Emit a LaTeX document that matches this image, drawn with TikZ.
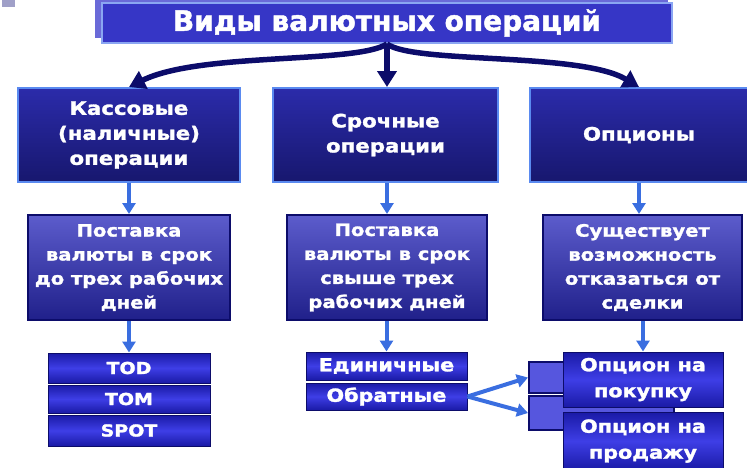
\documentclass[tikz,border=0pt]{standalone}
\usepackage{fontspec}
\setmainfont{DejaVu Sans}[FakeStretch=1.15,BoldFeatures={FakeBold=1.6}]
\newfontfamily\titlefont{DejaVu Sans}[BoldFeatures={FakeBold=1.6}]
\usetikzlibrary{arrows.meta,shadings}
\definecolor{navy}{HTML}{0C0C6A}
\definecolor{ltblue}{HTML}{3A6EE0}
\definecolor{rimblue}{HTML}{5A8AF0}
\definecolor{titlefill}{HTML}{3636C6}
\definecolor{titlerim}{HTML}{8AA6F2}
\definecolor{titleshadow}{HTML}{6A6AD8}
\definecolor{greysq}{HTML}{A0A0C8}
\definecolor{onetop}{HTML}{2B2BAA}
\definecolor{onebot}{HTML}{17176E}
\definecolor{twotop}{HTML}{5C5CCC}
\definecolor{twobot}{HTML}{20208A}
\definecolor{threeedge}{HTML}{1A1AA6}
\definecolor{threemid}{HTML}{3E3EE6}
\definecolor{smallfill}{HTML}{5656DE}
\begin{document}
\begin{tikzpicture}[x=1pt,y=-1pt,
  txt/.style={text=white,align=center,inner sep=0pt},
  topbox/.style={txt,draw=titlerim,line width=2pt,fill=titlefill,font=\titlefont\fontsize{28}{30}\selectfont\bfseries},
  onebox/.style={txt,draw=rimblue,line width=2pt,top color=onetop,bottom color=onebot,font=\fontsize{18.5}{25}\selectfont\bfseries},
  twobox/.style={txt,draw=navy,line width=2pt,top color=twotop,bottom color=twobot,font=\fontsize{17}{24}\selectfont\bfseries},
  threebox/.style={txt,draw=navy,line width=1pt,top color=threeedge,bottom color=threeedge,middle color=threemid,font=\fontsize{16.5}{19}\selectfont\bfseries},
  midbox/.style={threebox,font=\fontsize{18}{19}\selectfont\bfseries},
  optbox/.style={txt,draw=navy,line width=1pt,top color=threeedge,bottom color=threeedge,middle color=threemid,font=\fontsize{18}{26}\selectfont\bfseries},
  smallbox/.style={draw=navy,line width=2pt,fill=smallfill,anchor=west},
  bigarrow/.style={navy,line width=5.5pt,-{Triangle[width=19pt,length=16pt]}},
  smallarrow/.style={ltblue,line width=4pt,-{Triangle[width=13pt,length=11pt]}}
]
\useasboundingbox (0,0) rectangle (747,467);
% small grey square
\fill[greysq] (2,0) rectangle (15,7);
% title shadow and box
\fill[titleshadow] (95,0) rectangle (668,38);
\node[topbox,minimum width=570pt,minimum height=40pt] (title) at (387,23) {Виды валютных операций};
% row 1
\node[onebox,minimum width=222pt,minimum height=94pt] (kas) at (129,135) {Кассовые\\(наличные)\\операции};
\node[onebox,minimum width=225pt,minimum height=94pt] (sro) at (385.5,135) {Срочные\\операции};
\node[onebox,minimum width=218pt,minimum height=94pt] (opc) at (639,135) {Опционы};
% row 2
\node[twobox,minimum width=202pt,minimum height=105pt] (kas2) at (129,267.5) {Поставка\\валюты в срок\\до трех рабочих\\дней};
\node[twobox,minimum width=200pt,minimum height=105pt] (sro2) at (387,267.5) {Поставка\\валюты в срок\\свыше трех\\рабочих дней};
\node[twobox,minimum width=199pt,minimum height=105pt] (opc2) at (642.5,267.5) {Существует\\возможность\\отказаться от\\сделки};
% row 3 left
\node[threebox,minimum width=162pt,minimum height=30pt] (tod) at (129,368) {TOD};
\node[threebox,minimum width=162pt,minimum height=28pt] (tom) at (129,399) {TOM};
\node[threebox,minimum width=162pt,minimum height=31pt] (spot) at (129,430.5) {SPOT};
% row 3 middle
\node[midbox,minimum width=161pt,minimum height=28pt] (edi) at (386.5,366) {Единичные};
\node[midbox,minimum width=161pt,minimum height=27pt] (obr) at (386.5,396.5) {Обратные};
% row 3 right: boxes behind
\node[smallbox,minimum width=72pt,minimum height=31pt] (sm1) at (528,377.5) {};
\node[smallbox,minimum width=145pt,minimum height=34pt] (sm2) at (528,413) {};
\node[optbox,minimum width=160pt,minimum height=55pt] (buy) at (643,379.5) {Опцион на\\покупку};
\node[optbox,minimum width=160pt,minimum height=58pt] (sell) at (643,441) {Опцион на\\продажу};
% arrows
\draw[bigarrow] (title.south) .. controls (355,64) and (200,52) .. (kas.north);
\draw[bigarrow] (title.south) .. controls (415,64) and (580,52) .. (opc.north);
\draw[bigarrow] (title.south) -- (title.south |- sro.north);
\draw[smallarrow] (kas.south) -- (kas.south |- kas2.north);
\draw[smallarrow] (sro.south -| sro2.north) -- (sro2.north);
\draw[smallarrow] (opc.south) -- (opc.south |- opc2.north);
\draw[smallarrow] (kas2.south) -- (tod.north);
\draw[smallarrow] (sro2.south -| edi.north) -- (edi.north);
\draw[smallarrow] (opc2.south -| buy.north) -- (buy.north);
\coordinate (fork) at (obr.east);
\draw[smallarrow] (fork) -- (sm1.west);
\draw[smallarrow] (fork) -- (sm2.west);
\end{tikzpicture}
\end{document}
